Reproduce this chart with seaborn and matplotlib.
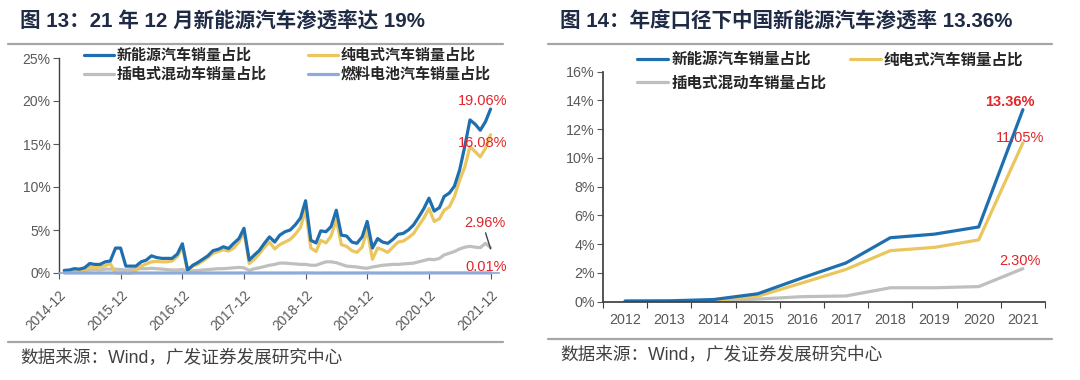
import numpy as np
import pandas as pd
import matplotlib
matplotlib.use("Agg")
import matplotlib.pyplot as plt
import seaborn as sns
from matplotlib.lines import Line2D
from matplotlib.ticker import FuncFormatter

# ---------------- data: monthly (left) ----------------
months = pd.date_range("2015-01-01", "2021-12-01", freq="MS")
nev_m = [0.3, 0.35, 0.5, 0.45, 0.6, 1.1, 1.0, 1.0, 1.3, 1.4, 2.9, 2.9,
         0.8, 0.8, 0.8, 1.3, 1.5, 2.0, 1.8, 1.7, 1.7, 1.7, 2.2, 3.4,
         0.35, 0.9, 1.2, 1.6, 2.0, 2.6, 2.75, 3.05, 2.85, 3.45, 4.0, 5.2,
         1.5, 2.1, 2.6, 3.45, 4.2, 3.6, 4.4, 4.8, 5.0, 5.6, 6.4, 8.4,
         3.8, 3.5, 4.9, 4.8, 5.4, 7.3, 4.4, 4.3, 3.6, 3.45, 4.2, 6.0,
         2.9, 4.0, 3.6, 3.45, 3.9, 4.5, 4.6, 5.0, 5.6, 6.5, 7.5, 8.7,
         7.2, 7.6, 8.9, 9.3, 10.1, 12.0, 14.7, 17.8, 17.3, 16.6, 17.6, 19.06]
bev_m = [0.05, 0.2, 0.1, 0.15, 0.3, 0.75, 0.6, 0.7, 0.85, 1.1, 0.0, 0.0,
         0.0, 0.0, 0.3, 0.8, 1.05, 1.3, 1.35, 1.3, 1.3, 1.4, 1.9, 3.0,
         0.25, 0.8, 1.0, 1.4, 1.8, 2.3, 2.5, 2.7, 2.55, 2.9, 3.6, 4.8,
         1.1, 1.6, 2.2, 3.0, 3.6, 2.8, 3.3, 3.6, 3.9, 4.5, 5.3, 7.4,
         2.9, 2.5, 3.8, 3.5, 4.3, 6.2, 3.3, 3.1, 2.6, 2.4, 3.0, 5.0,
         1.6, 2.9, 2.7, 2.4, 3.0, 3.6, 3.7, 4.1, 4.6, 5.5, 6.4, 7.5,
         6.0, 6.3, 7.3, 7.7, 8.9, 10.8, 12.3, 14.7, 14.1, 13.5, 14.5, 16.08]
phev_m = [0.15, 0.15, 0.2, 0.25, 0.3, 0.35, 0.4, 0.35, 0.45, 0.45, 0.45, 0.4,
          0.35, 0.4, 0.45, 0.5, 0.5, 0.55, 0.5, 0.45, 0.4, 0.35, 0.35, 0.4,
          0.2, 0.25, 0.3, 0.35, 0.4, 0.45, 0.5, 0.5, 0.55, 0.6, 0.65, 0.6,
          0.3, 0.5, 0.6, 0.75, 0.9, 1.0, 1.15, 1.15, 1.1, 1.05, 1.0, 1.0,
          0.9, 0.9, 1.1, 1.3, 1.3, 1.2, 1.0, 0.8, 0.75, 0.7, 0.6, 0.55,
          0.7, 0.8, 0.9, 0.95, 1.0, 1.0, 1.05, 1.1, 1.15, 1.3, 1.45, 1.6,
          1.55, 1.7, 2.1, 2.3, 2.5, 2.8, 3.0, 3.1, 3.0, 2.95, 3.45, 2.96]
fcev_m = [0.0, 0.0, 0.0, 0.0, 0.0, 0.0, 0.0, 0.0, 0.0, 0.0, 0.0, 0.0,
          0.0, 0.0, 0.0, 0.0, 0.0, 0.0, 0.0, 0.0, 0.0, 0.0, 0.0, 0.0,
          0.0, 0.0, 0.0, 0.0, 0.0, 0.0, 0.0, 0.0, 0.0, 0.0, 0.0, 0.0,
          0.0, 0.0, 0.0, 0.0, 0.0, 0.0, 0.0, 0.0, 0.0, 0.0, 0.0, 0.01,
          0.0, 0.0, 0.0, 0.0, 0.0, 0.0, 0.0, 0.0, 0.0, 0.0, 0.0, 0.01,
          0.0, 0.0, 0.0, 0.0, 0.0, 0.0, 0.0, 0.0, 0.0, 0.0, 0.0, 0.01,
          0.01, 0.01, 0.01, 0.01, 0.01, 0.01, 0.01, 0.01, 0.01, 0.01, 0.01, 0.01]
left_ticks = ["2014-12", "2015-12", "2016-12", "2017-12", "2018-12",
              "2019-12", "2020-12", "2021-12"]

# ---------------- data: annual (right) ----------------
years = [2012, 2013, 2014, 2015, 2016, 2017, 2018, 2019, 2020, 2021]
nev_y = [0.05, 0.06, 0.15, 0.55, 1.65, 2.7, 4.45, 4.7, 5.2, 13.36]
bev_y = [0.03, 0.04, 0.08, 0.38, 1.3, 2.25, 3.55, 3.78, 4.3, 11.05]
phev_y = [0.01, 0.02, 0.05, 0.18, 0.35, 0.4, 0.97, 0.97, 1.05, 2.30]

names = ["新能源汽车销量占比", "纯电式汽车销量占比", "插电式混动车销量占比", "燃料电池汽车销量占比"]
colors = {names[0]: "#1F6FB0", names[1]: "#EAC65E", names[2]: "#BFBFBF", names[3]: "#8EA9DB"}

sns.set_theme(style="white")
plt.rcParams["font.family"] = ["Liberation Sans", "Noto Sans CJK SC", "DejaVu Sans"]

fig = plt.figure(figsize=(10.8, 3.8), dpi=100)
W, H = 1080.0, 380.0

def fx(px):
    return px / W

def fy(py):
    return 1 - py / H

def px2pt(p):
    return p * 72.0 / 100.0

title_color = "#1F2A44"
grey_line = "#A6A6A6"
red = "#E0262B"
tick_col = "#595959"

# frame lines, titles, sources
for (x0, x1, yt, yb, title) in [(8, 503, 44, 342, "图 13：21 年 12 月新能源汽车渗透率达 19%"),
                                 (548, 1052, 44, 339, "图 14：年度口径下中国新能源汽车渗透率 13.36%")]:
    fig.add_artist(Line2D([fx(x0), fx(x1)], [fy(yt), fy(yt)], color=grey_line, lw=1.6))
    fig.add_artist(Line2D([fx(x0), fx(x1)], [fy(yb), fy(yb)], color=grey_line, lw=1.6))
    fig.text(fx(x0 + 12), fy(21), title, fontsize=14.8, fontweight="bold",
             color=title_color, va="center", ha="left")
    fig.text(fx(x0 + 12), fy(yb + 16), "数据来源：Wind，广发证券发展研究中心",
             fontsize=12.7, color="#404040", va="center", ha="left")

# ---------------- left chart ----------------
ax1 = fig.add_axes([fx(59), fy(273), fx(499 - 59), (273 - 58) / H])
dfm = pd.DataFrame({"month": np.tile(months, 4),
                    "value": nev_m + bev_m + phev_m + fcev_m,
                    "series": np.repeat(names, len(months))})
draw_order = [names[3], names[2], names[1], names[0]]
for nm in draw_order:
    sub = dfm[dfm["series"] == nm]
    sns.lineplot(data=sub, x="month", y="value", ax=ax1, color=colors[nm],
                 lw=2.3, label=nm, clip_on=False, zorder=3 if nm != names[3] else 4)

ax1.set_xlim(pd.Timestamp("2014-12-01"), pd.Timestamp("2022-01-20"))
ax1.set_ylim(0, 25)
ax1.set_yticks([0, 5, 10, 15, 20, 25])
ax1.yaxis.set_major_formatter(FuncFormatter(lambda v, p: f"{v:.0f}%"))
tick_dates = [pd.Timestamp(t + "-01") for t in left_ticks]
ax1.set_xticks(tick_dates)
ax1.set_xticklabels(left_ticks, rotation=45, ha="right", rotation_mode="anchor")
ax1.set_xlabel("")
ax1.set_ylabel("")
ax1.tick_params(axis="x", labelsize=9.8, colors=tick_col, length=4, width=0.8,
                direction="out", pad=7, bottom=True)
ax1.tick_params(axis="y", labelsize=10, colors=tick_col, length=4, width=0.8,
                direction="out", pad=2, left=True)
for s in ["top", "right"]:
    ax1.spines[s].set_visible(False)
ax1.spines["left"].set_color("#404040")
ax1.spines["bottom"].set_color("#8EA9DB")
ax1.spines["left"].set_linewidth(1.0)

h, l = ax1.get_legend_handles_labels()
hm = dict(zip(l, h))
order = [names[0], names[2], names[1], names[3]]
ax1.legend([hm[n] for n in order], order, ncol=2, loc="upper left",
           bbox_to_anchor=(fx(78), fy(41)), bbox_transform=fig.transFigure,
           frameon=False, handlelength=2.0, handletextpad=0.2,
           columnspacing=2.7, labelspacing=0.2, borderaxespad=0,
           prop={"family": ["Noto Sans CJK SC"], "size": 10.8, "weight": "bold"})

# annotations left
d_last = months[-1]
ax1.annotate("19.06%", xy=(d_last, nev_m[-1]), xytext=(px2pt(-8), px2pt(8)),
             textcoords="offset points", ha="center", va="center", color=red, fontsize=10.5)
ax1.annotate("16.08%", xy=(d_last, bev_m[-1]), xytext=(px2pt(-8), px2pt(-8)),
             textcoords="offset points", ha="center", va="center", color=red, fontsize=10.5)
ax1.annotate("2.96%", xy=(d_last, phev_m[-1]), xytext=(px2pt(-6), px2pt(25)),
             textcoords="offset points", ha="center", va="center", color=red, fontsize=10.5)
ax1.annotate("0.01%", xy=(d_last, fcev_m[-1]), xytext=(px2pt(-4), px2pt(6)),
             textcoords="offset points", ha="center", va="center", color=red, fontsize=10.5)
ax1.annotate("", xy=(d_last, phev_m[-1] - 0.15), xytext=(px2pt(-5), px2pt(16)),
             textcoords="offset points",
             arrowprops=dict(arrowstyle="-", color="#404040", lw=1.0, shrinkA=0, shrinkB=0))

# ---------------- right chart ----------------
ax2 = fig.add_axes([fx(603), fy(301.7), fx(1045 - 603), (301.7 - 71.7) / H])
dfy = pd.DataFrame({"year": years * 3, "value": nev_y + bev_y + phev_y,
                    "series": np.repeat(names[:3], len(years))})
for nm in [names[2], names[1], names[0]]:
    sub = dfy[dfy["series"] == nm]
    sns.lineplot(data=sub, x="year", y="value", ax=ax2, color=colors[nm], lw=2.3, label=nm)
ax2.set_xlim(2011.5, 2021.5)
ax2.set_ylim(0, 16)
ax2.set_yticks(range(0, 17, 2))
ax2.yaxis.set_major_formatter(FuncFormatter(lambda v, p: f"{v:.0f}%"))
ax2.set_xticks(years)
ax2.set_xticklabels([str(y) for y in years])
ax2.set_xticks([y - 0.5 for y in years] + [2021.5], minor=True)
ax2.set_xlabel("")
ax2.set_ylabel("")
ax2.tick_params(axis="x", which="major", length=0, labelsize=10.3, colors=tick_col, pad=8)
ax2.tick_params(axis="x", which="minor", length=4, width=0.8, color="#404040",
                direction="out", bottom=True)
ax2.tick_params(axis="y", labelsize=10.3, colors=tick_col, length=4, width=0.8,
                direction="out", pad=2, left=True)
for s in ["top", "right"]:
    ax2.spines[s].set_visible(False)
ax2.spines["left"].set_color("#404040")
ax2.spines["bottom"].set_color("#404040")
h2, l2 = ax2.get_legend_handles_labels()
hm2 = dict(zip(l2, h2))
order2 = [names[0], names[2], names[1]]
ax2.legend([hm2[n] for n in order2], order2, ncol=2, loc="upper left",
           bbox_to_anchor=(fx(631), fy(45)), bbox_transform=fig.transFigure,
           frameon=False, handlelength=2.0, handletextpad=0.2,
           columnspacing=1.5, labelspacing=0.45, borderaxespad=0,
           prop={"family": ["Noto Sans CJK SC"], "size": 11.2, "weight": "bold"})

ax2.annotate("13.36%", xy=(2021, nev_y[-1]), xytext=(px2pt(-13), px2pt(8)),
             textcoords="offset points", ha="center", va="center", color=red,
             fontsize=10.5, fontweight="bold")
ax2.annotate("11.05%", xy=(2021, bev_y[-1]), xytext=(px2pt(-3), px2pt(5)),
             textcoords="offset points", ha="center", va="center", color=red, fontsize=10.5)
ax2.annotate("2.30%", xy=(2021, phev_y[-1]), xytext=(px2pt(-3), px2pt(8)),
             textcoords="offset points", ha="center", va="center", color=red, fontsize=10.5)

fig.savefig("out.png", dpi=100)
